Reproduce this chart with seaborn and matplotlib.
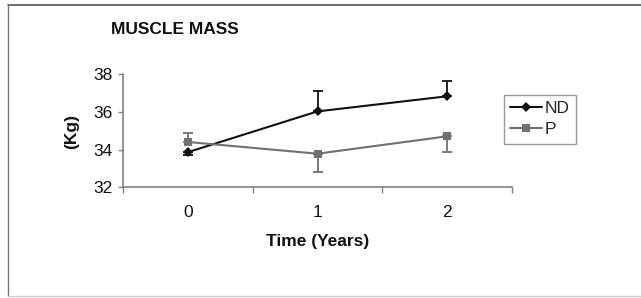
import matplotlib
matplotlib.use("Agg")
import matplotlib.pyplot as plt
from matplotlib.lines import Line2D
import seaborn as sns
import pandas as pd

# ---- data ----
time_years = [0, 1, 2]
time_labels = ["0", "1", "2"]
nd_mean = [33.86, 36.02, 36.82]
nd_err_low = [0.17, 0.0, 0.0]
nd_err_high = [0.0, 1.07, 0.81]
p_mean = [34.40, 33.78, 34.70]
p_err_low = [0.0, 0.98, 0.82]
p_err_high = [0.48, 0.0, 0.0]
y_ticks = [32, 34, 36, 38]

sns.set_style("white")
plt.rcParams["font.family"] = ["Liberation Sans", "DejaVu Sans"]

df = pd.DataFrame({
    "time": time_years * 2,
    "mass": nd_mean + p_mean,
    "group": ["ND"] * 3 + ["P"] * 3,
})

W, H = 641, 298
fig = plt.figure(figsize=(W / 100, H / 100), dpi=100)
left, right, top, bottom = 123, 512, 74, 187.3
ax = fig.add_axes([left / W, 1 - bottom / H, (right - left) / W, (bottom - top) / H])

nd_col = "#111111"
p_col = "#707070"

sns.lineplot(data=df, x="time", y="mass", hue="group", style="group",
             palette={"ND": nd_col, "P": p_col},
             markers={"ND": "D", "P": "s"}, dashes=False,
             markersize=6, linewidth=1.5, markeredgewidth=0,
             ax=ax, legend=True)
for ln in ax.get_lines():
    if ln.get_marker() == "D":
        ln.set_markersize(5)

ax.errorbar(time_years, nd_mean, yerr=[nd_err_low, nd_err_high], fmt="none",
            ecolor=nd_col, elinewidth=1.3, capsize=3.3, capthick=1.3, zorder=1)
ax.errorbar(time_years, p_mean, yerr=[p_err_low, p_err_high], fmt="none",
            ecolor=p_col, elinewidth=1.3, capsize=3.3, capthick=1.3, zorder=1)

ax.set_xlim(-0.5, 2.5)
ax.set_ylim(32, 38)
ax.set_yticks(y_ticks)
ax.set_yticklabels([str(v) for v in y_ticks])
ax.set_xticks(time_years)
ax.set_xticklabels(time_labels)
ax.set_xticks([-0.5, 0.5, 1.5, 2.5], minor=True)

for s in ["top", "right"]:
    ax.spines[s].set_visible(False)
for s in ["left", "bottom"]:
    ax.spines[s].set_color("#808080")
    ax.spines[s].set_linewidth(1.2)

ax.tick_params(axis="y", which="major", direction="out", length=3.5, width=1.0,
               color="#808080", labelsize=12.5, pad=4, left=True, labelcolor="#111111")
ax.tick_params(axis="x", which="major", length=0, labelsize=12.5, pad=13,
               labelcolor="#111111")
ax.tick_params(axis="x", which="minor", direction="out", length=4, width=1.0,
               color="#808080", bottom=True)

ax.set_xlabel("Time (Years)", fontsize=12.5, fontweight="bold", color="#111111")
ax.set_ylabel("(Kg)", fontsize=12.5, fontweight="bold", color="#111111")
ax.xaxis.set_label_coords((318 - left) / (right - left), (bottom - 241) / (bottom - top))
ax.xaxis.label.set_va("center")
ax.yaxis.set_label_coords((72 - left) / (right - left), (bottom - 131.7) / (bottom - top))
ax.yaxis.label.set_va("center")

handles, labels = ax.get_legend_handles_labels()
leg = ax.legend(handles, labels, loc="upper left",
                bbox_to_anchor=(504 / W, 1 - 95 / H), bbox_transform=fig.transFigure,
                fontsize=12.5, frameon=True, fancybox=False, borderaxespad=0,
                handlelength=1.85, handletextpad=0.15, labelspacing=0.35,
                borderpad=0.35, title=None)
leg.get_frame().set_edgecolor("#808080")
leg.get_frame().set_linewidth(1.0)

fig.text(111 / W, 1 - 29.5 / H, "MUSCLE MASS", ha="left", va="center",
         fontsize=12.5, fontweight="bold", color="#111111")

# outer frame
fig.add_artist(Line2D([7.5 / W, 1], [1 - 4.7 / H] * 2, transform=fig.transFigure,
                      color="#555555", linewidth=1.2))
fig.add_artist(Line2D([7.5 / W] * 2, [1 - 4.7 / H, 1 - 296 / H], transform=fig.transFigure,
                      color="#777777", linewidth=1.0))
fig.add_artist(Line2D([7.5 / W, 1], [1 - 296 / H] * 2, transform=fig.transFigure,
                      color="#cccccc", linewidth=1.0))

fig.savefig("out.png", dpi=100)
